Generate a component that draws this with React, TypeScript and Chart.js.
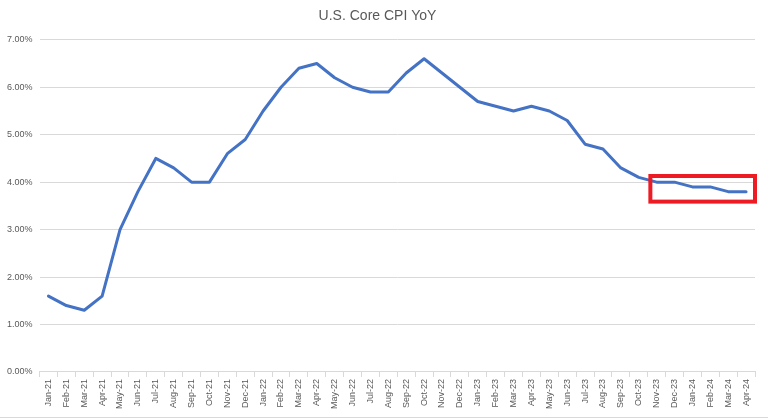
import React, { useEffect, useRef } from "react";
import { Chart, registerables } from "chart.js";

Chart.register(...registerables);

const categories = [
  "Jan-21", "Feb-21", "Mar-21", "Apr-21", "May-21", "Jun-21", "Jul-21", "Aug-21", "Sep-21", "Oct-21", "Nov-21", "Dec-21",
  "Jan-22", "Feb-22", "Mar-22", "Apr-22", "May-22", "Jun-22", "Jul-22", "Aug-22", "Sep-22", "Oct-22", "Nov-22", "Dec-22",
  "Jan-23", "Feb-23", "Mar-23", "Apr-23", "May-23", "Jun-23", "Jul-23", "Aug-23", "Sep-23", "Oct-23", "Nov-23", "Dec-23",
  "Jan-24", "Feb-24", "Mar-24", "Apr-24",
];

const coreCpiYoY = [
  1.6, 1.4, 1.3, 1.6, 3.0, 3.8, 4.5, 4.3, 4.0, 4.0, 4.6, 4.9,
  5.5, 6.0, 6.4, 6.5, 6.2, 6.0, 5.9, 5.9, 6.3, 6.6, 6.3, 6.0,
  5.7, 5.6, 5.5, 5.6, 5.5, 5.3, 4.8, 4.7, 4.3, 4.1, 4.0, 4.0,
  3.9, 3.9, 3.8, 3.8,
];

const yTicks = [0, 1, 2, 3, 4, 5, 6, 7];

// Highlight box (in data units: category indices and percent)
const boxStartIndex = 34 - 0.35;
const boxEndIndex = 39 + 0.5;
const boxLow = 3.59;
const boxHigh = 4.13;

const highlightPlugin = {
  id: "highlightBox",
  afterDatasetsDraw(chart: any) {
    const { ctx, scales } = chart;
    const xs = scales.x;
    const ys = scales.y;
    const step = xs.getPixelForValue(1) - xs.getPixelForValue(0);
    const x0 = xs.getPixelForValue(0) + boxStartIndex * step;
    const x1 = xs.getPixelForValue(0) + boxEndIndex * step;
    const y0 = ys.getPixelForValue(boxHigh);
    const y1 = ys.getPixelForValue(boxLow);
    ctx.save();
    ctx.strokeStyle = "#ED1C24";
    ctx.lineWidth = 4;
    ctx.strokeRect(x0, y0, x1 - x0, y1 - y0);
    ctx.restore();
  },
};

export default function App() {
  const ref = useRef<HTMLCanvasElement>(null);

  useEffect(() => {
    if (!ref.current) return;
    const chart = new Chart(ref.current, {
      type: "line",
      data: {
        labels: categories,
        datasets: [
          {
            label: "Core CPI YoY",
            data: coreCpiYoY,
            borderColor: "#4472C4",
            backgroundColor: "#4472C4",
            borderWidth: 3,
            pointRadius: 0,
            tension: 0,
            borderJoinStyle: "round",
            borderCapStyle: "round",
          },
        ],
      },
      options: {
        animation: false,
        responsive: false,
        maintainAspectRatio: false,
        layout: { padding: { left: 0, right: 13, top: 0, bottom: 6 } },
        plugins: {
          legend: { display: false },
          tooltip: { enabled: false },
          title: {
            display: true,
            text: "U.S. Core CPI YoY",
            color: "#595959",
            font: { family: "Liberation Sans, Arial, sans-serif", size: 14, weight: "normal" },
            padding: { top: 8, bottom: 15 },
          },
        },
        scales: {
          x: {
            offset: true,
            grid: {
              offset: true,
              drawOnChartArea: false,
              drawTicks: true,
              tickLength: 5,
              color: "#d9d9d9",
            },
            border: { display: true, color: "#d9d9d9" },
            ticks: {
              autoSkip: false,
              maxRotation: 90,
              minRotation: 90,
              color: "#595959",
              font: { family: "Liberation Sans, Arial, sans-serif", size: 9 },
              padding: 2,
            },
          },
          y: {
            min: 0,
            max: 7,
            afterBuildTicks: (axis: any) => {
              axis.ticks = yTicks.map((v) => ({ value: v }));
            },
            grid: { color: "#d9d9d9", drawTicks: false },
            border: { display: false },
            ticks: {
              color: "#595959",
              font: { family: "Liberation Sans, Arial, sans-serif", size: 9 },
              padding: 7,
              callback: (v: any) => Number(v).toFixed(2) + "%",
            },
          },
        },
      },
      plugins: [highlightPlugin],
    });
    return () => chart.destroy();
  }, []);

  return (
    <div
      style={{
        position: "absolute",
        left: 0,
        top: 0,
        width: 768,
        height: 417,
        background: "#fff",
        borderBottom: "1px solid #d9d9d9",
      }}
    >
      <canvas ref={ref} width={768} height={417} style={{ display: "block" }} />
    </div>
  );
}
